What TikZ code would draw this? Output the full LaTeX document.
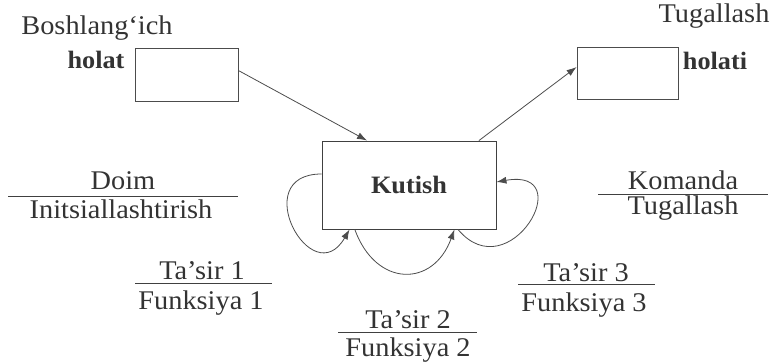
\documentclass[tikz,border=0pt]{standalone}
\usepackage{fontspec}
\setmainfont{Liberation Serif}[FakeStretch=1.05]
\usetikzlibrary{arrows.meta,calc}
\begin{document}
\begin{tikzpicture}[x=1pt, y=1pt,
    every node/.style={text=black!80, font=\fontsize{27}{31}\selectfont},
    txt/.style={anchor=base, inner sep=0pt},
    bold/.style={font=\fontsize{25}{29}\selectfont\bfseries},
    statebox/.style={draw=black!70, line width=0.8pt, minimum height=53pt, inner sep=0pt},
    arr/.style={-{Latex[length=10pt,width=7pt]}, draw=black!70, line width=0.8pt},
    sep/.style={draw=black!75, line width=0.8pt}]
    \useasboundingbox (0,0) rectangle (774,364);

    % initial and final states
    \node[txt] (boshlang) at (97,329) {Boshlang‘ich};
    \node[txt, bold] (holat) at (96,295) {holat};
    \node[statebox, minimum width=103pt] (start) at (186.5,289.5) {};
    \node[txt] (tugallash) at (714,341) {Tugallash};
    \node[txt, bold] (holati) at (715,294) {holati};
    \node[statebox, minimum width=101pt, minimum height=52pt] (finish) at (627.5,291) {};

    % waiting state
    \node[draw=black!75, line width=0.9pt, minimum width=174pt, minimum height=88pt, bold] (kutish) at (409,179) {Kutish};

    \draw[arr] ($(start.east)+(0,4)$) -- ($(kutish.north west)!0.26!(kutish.north east)$);
    \draw[arr] ($(kutish.north west)!0.9!(kutish.north east)$) -- ($(finish.west)+(0,6)$);

    % self loops
    \draw[arr] ($(kutish.west)+(0,11)$) .. controls +(180:75) and +(-120:75) .. ($(kutish.south west)!0.16!(kutish.south east)$);
    \draw[arr] ($(kutish.south west)!0.19!(kutish.south east)$) .. controls +(-70:62) and +(-110:62) .. ($(kutish.south west)!0.76!(kutish.south east)$);
    \draw[arr] ($(kutish.south west)!0.78!(kutish.south east)$) .. controls +(-50:80) and +(10:85) .. ($(kutish.east)+(0,3)$);

    % labels
    \node[txt] (doim) at (123,174) {Doim};
    \node[txt] (init) at (121,145) {Initsiallashtirish};
    \draw[sep] (8,168) -- (238,168);

    \node[txt] (komanda) at (683,174) {Komanda};
    \node[txt] (tugal) at (683,149) {Tugallash};
    \draw[sep] (598,170) -- (768,170);

    \node[txt] (tasir1) at (202,84) {Ta’sir 1};
    \node[txt] (funk1) at (201,54) {Funksiya 1};
    \draw[sep] (135,81) -- (272,81);

    \node[txt] (tasir2) at (408,35) {Ta’sir 2};
    \node[txt] (funk2) at (408,7) {Funksiya 2};
    \draw[sep] (338,32) -- (477,32);

    \node[txt] (tasir3) at (586,82) {Ta’sir 3};
    \node[txt] (funk3) at (584,52) {Funksiya 3};
    \draw[sep] (518,80) -- (655,80);
\end{tikzpicture}
\end{document}
